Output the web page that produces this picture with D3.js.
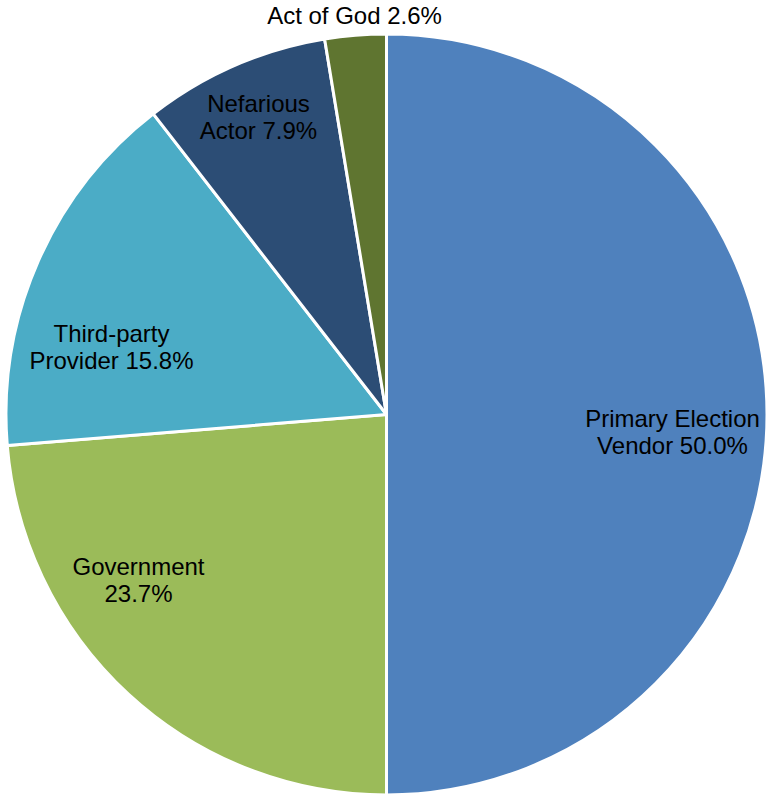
<!DOCTYPE html>
<html>
<head>
<meta charset="utf-8">
<script src="https://cdn.jsdelivr.net/npm/d3@7/dist/d3.min.js"></script>
<style>
  html, body { margin: 0; padding: 0; background: #ffffff; }
  svg { display: block; }
  text { font-family: "Liberation Sans", Arial, sans-serif; }
</style>
</head>
<body>
<svg id="chart" width="769" height="797"></svg>
<script>
// Responsibility shares, in percent, clockwise from 12 o'clock
const categories = ["Primary Election Vendor", "Government", "Third-party Provider", "Nefarious Actor", "Act of God"];
const shares = [50.0, 23.7, 15.8, 7.9, 2.6];
const colors = ["#4F81BD", "#9BBB59", "#4BACC6", "#2C4D75", "#5F7530"];
// Label text, one entry per line
const labelLines = [
  ["Primary Election", "Vendor 50.0%"],
  ["Government", "23.7%"],
  ["Third-party", "Provider 15.8%"],
  ["Nefarious", "Actor 7.9%"],
  ["Act of God 2.6%"]
];

// Label anchor positions relative to the pie centre (first-line baseline)
const labelAnchors = [
  { dx: 286, dy: 12 },
  { dx: -248, dy: 160 },
  { dx: -275, dy: -73 },
  { dx: -128, dy: -303 },
  { dx: -32, dy: -391 }
];

const cx = 386.5, cy = 414.5, radius = 380.5;
const fontSize = 24, lineHeight = 27;

const svg = d3.select("#chart");
const g = svg.append("g").attr("transform", `translate(${cx},${cy})`);

const data = categories.map((c, i) => ({ name: c, value: shares[i], color: colors[i], lines: labelLines[i], anchor: labelAnchors[i] }));

const pie = d3.pie().sort(null).value(d => d.value).startAngle(0).endAngle(2 * Math.PI);
const arc = d3.arc().innerRadius(0).outerRadius(radius);

g.selectAll("path.slice")
  .data(pie(data))
  .join("path")
  .attr("class", "slice")
  .attr("d", arc)
  .attr("fill", d => d.data.color)
  .attr("stroke", "#ffffff")
  .attr("stroke-width", 3)
  .attr("stroke-linejoin", "round");

const labels = g.selectAll("text.label")
  .data(data)
  .join("text")
  .attr("class", "label")
  .attr("text-anchor", "middle")
  .attr("font-size", fontSize)
  .attr("fill", "#000000")
  .attr("x", d => d.anchor.dx)
  .attr("y", d => d.anchor.dy);

labels.selectAll("tspan")
  .data(d => d.lines.map((t, i) => ({ t, i, x: d.anchor.dx })))
  .join("tspan")
  .attr("x", d => d.x)
  .attr("dy", d => d.i === 0 ? 0 : lineHeight)
  .text(d => d.t);
</script>
</body>
</html>
